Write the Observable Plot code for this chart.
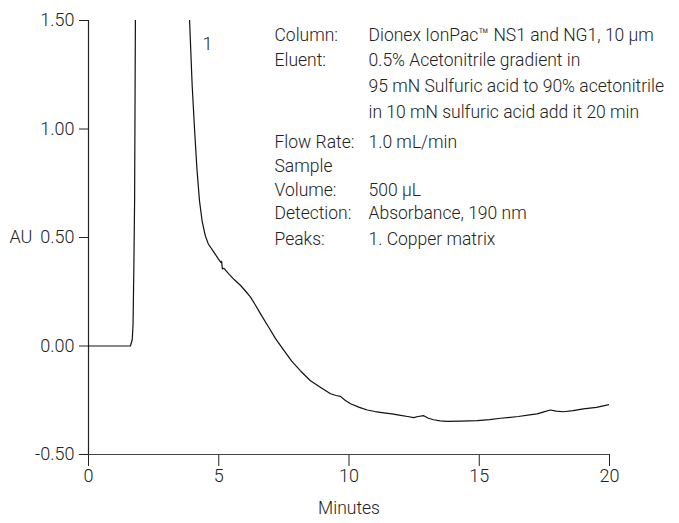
<!DOCTYPE html>
<html>
<head>
<meta charset="utf-8">
<script src="https://cdn.jsdelivr.net/npm/d3@7"></script>
<script src="https://cdn.jsdelivr.net/npm/@observablehq/plot@0.6"></script>
<style>
  html, body { margin: 0; padding: 0; background: #fff; }
  #chart svg { display: block; }
</style>
</head>
<body>
<div id="chart"></div>
<script>
// Chromatogram trace (minutes, AU)
const timeMin = [0, 1.0, 1.61, 1.68, 1.71, 1.74, 1.77, 1.80, 1.84, 2.8, 3.75, 3.88, 3.98, 4.07, 4.16, 4.26, 4.36, 4.48, 4.60, 4.80, 4.99, 5.08, 5.11, 5.14, 5.20, 5.40, 5.60, 5.83, 6.05, 6.22, 6.40, 6.60, 6.90, 7.18, 7.50, 7.80, 8.14, 8.52, 8.90, 9.29, 9.50, 9.67, 9.85, 10.06, 10.40, 10.70, 11.0, 11.33, 11.65, 11.98, 12.25, 12.48, 12.65, 12.87, 13.05, 13.25, 13.50, 13.77, 14.3, 14.92, 15.4, 15.82, 16.5, 17.0, 17.22, 17.45, 17.73, 17.95, 18.24, 18.6, 19.0, 19.5, 20.0];
const absorbance = [0, 0, 0, 0.03, 0.10, 0.35, 0.67, 1.5, 2.2, 3.0, 1.9, 1.5, 1.2, 1.0, 0.82, 0.67, 0.577, 0.51, 0.47, 0.435, 0.40, 0.385, 0.39, 0.355, 0.358, 0.33, 0.305, 0.28, 0.25, 0.225, 0.19, 0.149, 0.09, 0.034, -0.02, -0.07, -0.115, -0.16, -0.19, -0.22, -0.228, -0.232, -0.25, -0.266, -0.283, -0.295, -0.302, -0.308, -0.313, -0.32, -0.325, -0.33, -0.325, -0.321, -0.333, -0.34, -0.345, -0.347, -0.346, -0.344, -0.339, -0.333, -0.325, -0.316, -0.313, -0.305, -0.295, -0.300, -0.303, -0.298, -0.29, -0.283, -0.27];

// Axis ticks
const xTicks = [0, 5, 10, 15, 20];
const yTicks = [-0.5, 0, 0.5, 1.0, 1.5];
const yTickLabels = ["-0.50", "0.00", "0.50", "1.00", "1.50"];

// Peak label
const peakNames = ["1"];
const peakTime = [4.57];
const peakAU = [1.39];

// Conditions block
const infoLabels = ["Column:", "Eluent:", "", "", "Flow Rate:", "Sample", "Volume:", "Detection:", "Peaks:"];
const infoValues = ["Dionex IonPac™ NS1 and NG1, 10 µm", "0.5% Acetonitrile gradient in", "95 mN Sulfuric acid to 90% acetonitrile", "in 10 mN sulfuric acid add it 20 min", "1.0 mL/min", "", "500 µL", "Absorbance, 190 nm", "1. Copper matrix"];

const trace = timeMin.map((t, i) => ({t, v: absorbance[i]}));
const peaks = peakNames.map((n, i) => ({n, t: peakTime[i], v: peakAU[i]}));

const FONT = "Roboto, 'Liberation Sans', sans-serif";
const FS = 17.5;
const marginTop = 20;
const rowCenters = [35, 60, 86, 112, 142, 166, 190, 213, 239];

const infoMarks = [];
infoLabels.forEach((lab, i) => {
  if (lab) infoMarks.push(Plot.text([lab], {frameAnchor: "top-left", lineAnchor: "middle", dx: 186, dy: rowCenters[i] - marginTop, textAnchor: "start", fill: "#222", fontSize: FS, fontWeight: 300}));
  if (infoValues[i]) infoMarks.push(Plot.text([infoValues[i]], {frameAnchor: "top-left", lineAnchor: "middle", dx: 280, dy: rowCenters[i] - marginTop, textAnchor: "start", fill: "#222", fontSize: FS, fontWeight: 300}));
});

const chart = Plot.plot({
  width: 679,
  height: 523,
  marginLeft: 88,
  marginRight: 70,
  marginTop: marginTop,
  marginBottom: 69,
  style: {fontFamily: FONT, fontSize: "18px", color: "#222", background: "#fff", fontWeight: 300},
  x: {domain: [0, 20]},
  y: {domain: [-0.5, 1.5]},
  marks: [
    Plot.axisX({ticks: xTicks, tickSize: 12, tickPadding: 3, fontSize: 18, label: null, stroke: "#222"}),
    Plot.axisY({ticks: yTicks, tickFormat: d => yTickLabels[yTicks.indexOf(d)], tickSize: 9, tickPadding: 5, fontSize: 18, label: null, stroke: "#222"}),
    Plot.ruleX([0], {stroke: "#222", strokeWidth: 1.2}),
    Plot.ruleY([-0.5], {stroke: "#444", strokeWidth: 1.2}),
    Plot.line(trace, {x: "t", y: "v", stroke: "#111", strokeWidth: 1.2, clip: true}),
    Plot.text(peaks, {x: "t", y: "v", text: "n", fill: "#222", fontSize: 18, fontWeight: 300}),
    Plot.text(["Minutes"], {frameAnchor: "bottom", lineAnchor: "middle", dx: 0, dy: 54, fill: "#222", fontSize: FS, fontWeight: 300}),
    Plot.text(["AU"], {frameAnchor: "left", lineAnchor: "middle", dx: -79, dy: 0, textAnchor: "start", fill: "#222", fontSize: 18, fontWeight: 300}),
    ...infoMarks
  ]
});
document.getElementById("chart").appendChild(chart);
</script>
</body>
</html>
